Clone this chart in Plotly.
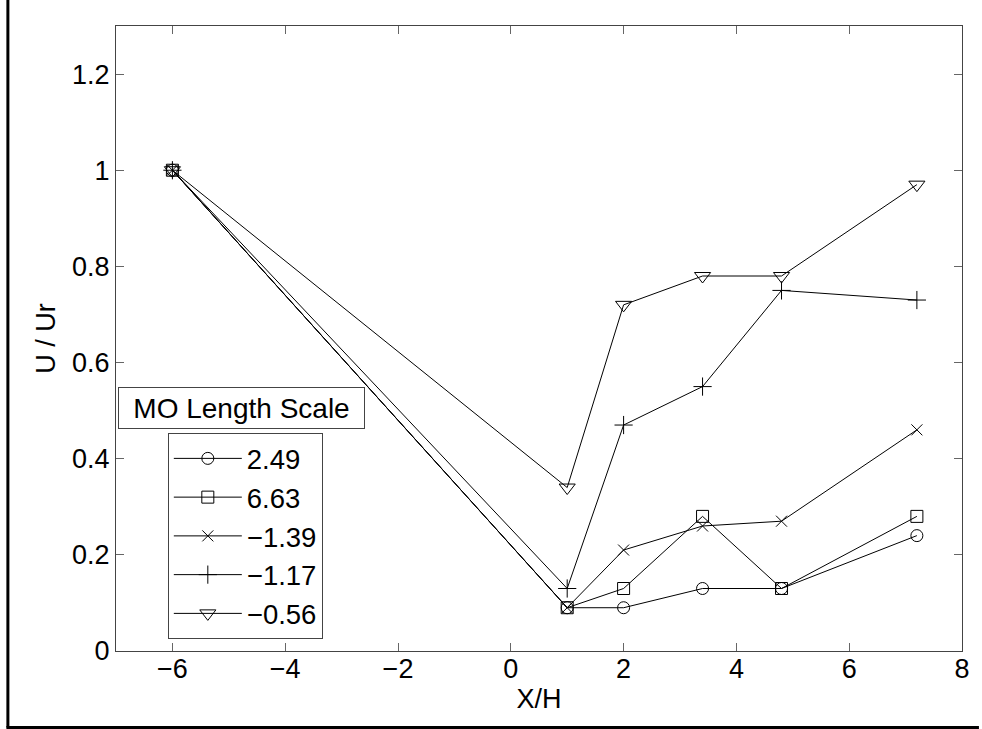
import plotly.graph_objects as go

x_h = [-6, 1, 2, 3.4, 4.8, 7.2]
labels = ["2.49", "6.63", "\u22121.39", "\u22121.17", "\u22120.56"]
s_249 = [1.0, 0.09, 0.09, 0.13, 0.13, 0.24]
s_663 = [1.0, 0.09, 0.13, 0.28, 0.13, 0.28]
s_m139 = [1.0, 0.09, 0.21, 0.26, 0.27, 0.46]
s_m117 = [1.0, 0.13, 0.47, 0.55, 0.75, 0.73]
s_m056 = [1.0, 0.34, 0.72, 0.78, 0.78, 0.97]
series = [s_249, s_663, s_m139, s_m117, s_m056]
symbols = ["circle-open", "square-open", "x-thin-open", "cross-thin-open", "triangle-down-open"]
sizes = [12, 12, 11, 13, 14]

FONT = "Liberation Sans, Arial, sans-serif"

fig = go.Figure()
for i, (lab, ys) in enumerate(zip(labels, series)):
    fig.add_trace(go.Scatter(
        x=x_h, y=ys, name=lab, mode="lines+markers",
        legendgroup=f"g{i}",
        line=dict(color="black", width=1),
        marker=dict(symbol=symbols[i], size=sizes[i], color="black",
                    line=dict(color="black", width=1)),
    ))

L, R, T, B = 116, 17, 26, 78
W, H = 982, 729
pw = W - L - R
ph = H - T - B

def px_x(p):
    return (p - L) / pw

def px_y(p):
    return (H - B - p) / ph

axis_common = dict(
    showline=True, linecolor="#444", linewidth=1, mirror="ticks",
    ticks="inside", ticklen=8, tickcolor="#666", tickwidth=1,
    showgrid=False, zeroline=False,
    tickfont=dict(family=FONT, size=27, color="black"),
)

fig.update_layout(
    width=W, height=H,
    margin=dict(l=L, r=R, t=T, b=B, pad=0),
    paper_bgcolor="white", plot_bgcolor="white",
    font=dict(family=FONT, color="black"),
    xaxis=dict(range=[-7, 8], tickvals=[-6, -4, -2, 0, 2, 4, 6, 8],
               ticktext=["\u22126", "\u22124", "\u22122", "0", "2", "4", "6", "8"],
               ticklabelstandoff=-6,
               title=dict(text="X/H", font=dict(family=FONT, size=27), standoff=2),
               **axis_common),
    yaxis=dict(range=[0, 1.3], tickvals=[0, 0.2, 0.4, 0.6, 0.8, 1, 1.2],
               ticktext=["0", "0.2", "0.4", "0.6", "0.8", "1", "1.2"],
               title=dict(text="U / Ur", font=dict(family=FONT, size=27), standoff=8),
               **axis_common),
    legend=dict(
        x=px_x(168), y=px_y(433), xanchor="left", yanchor="top",
        bgcolor="white", bordercolor="#444", borderwidth=1,
        font=dict(family=FONT, size=27.5, color="black"),
        itemwidth=68, tracegroupgap=0,
    ),
    showlegend=True,
    annotations=[dict(
        text="MO Length Scale", xref="paper", yref="paper",
        x=px_x(118), y=px_y(387), xanchor="left", yanchor="top",
        showarrow=False, font=dict(family=FONT, size=28, color="black"),
        bordercolor="#444", borderwidth=1, borderpad=2, bgcolor="white",
        width=241, height=36, align="center",
    )],
    shapes=[
        dict(type="line", xref="paper", yref="paper",
             x0=px_x(7.5), x1=px_x(7.5), y0=px_y(0), y1=px_y(727.5),
             line=dict(color="black", width=3)),
        dict(type="line", xref="paper", yref="paper",
             x0=px_x(6), x1=px_x(982), y0=px_y(727.5), y1=px_y(727.5),
             line=dict(color="black", width=3)),
    ],
)

fig.write_html("out.html")
